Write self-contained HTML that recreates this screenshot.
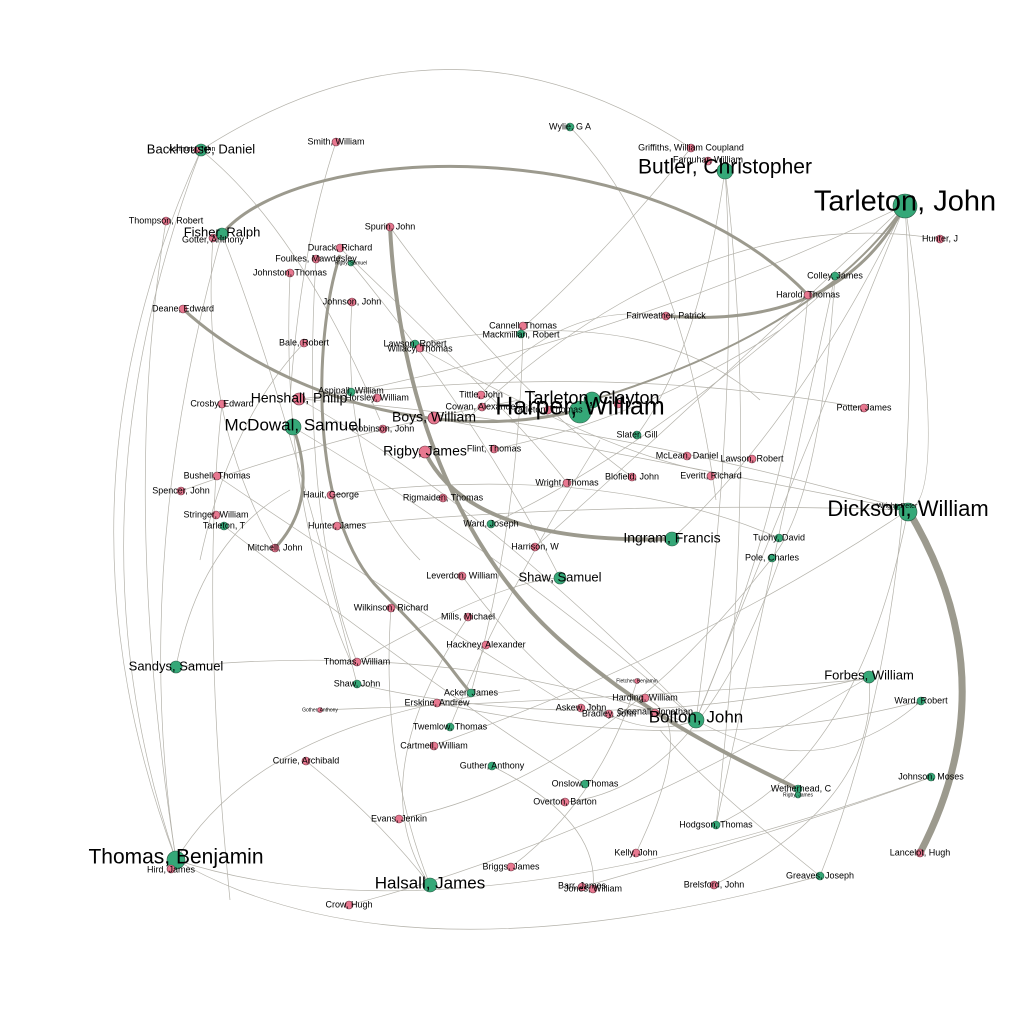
<!DOCTYPE html>
<html><head><meta charset="utf-8"><style>
html,body{margin:0;padding:0;background:#fff}
svg{display:block}
text{font-family:"Liberation Sans",sans-serif;fill:#000;text-anchor:middle;dominant-baseline:middle}
.e{fill:none;stroke:#b4b2aa;stroke-width:0.7}
.t{fill:none;stroke:#9c9a8e}
.g{fill:#35a878;stroke:#2a5a44;stroke-width:0.6}
.p{fill:#e87890;stroke:#6a3340;stroke-width:0.6}
</style></head><body>
<svg width="1024" height="1024" viewBox="0 0 1024 1024" xmlns="http://www.w3.org/2000/svg">
<g>
<path class="e" d="M201,150 Q450,-10 691,148"/>
<path class="e" d="M201,150 Q40,500 176,860"/>
<path class="e" d="M201,150 Q60,520 176,860"/>
<path class="e" d="M166,221 Q120,500 176,860"/>
<path class="e" d="M222,234 Q130,560 176,860"/>
<path class="e" d="M201,150 Q300,230 380,420"/>
<path class="e" d="M336,142 Q300,250 290,400"/>
<path class="e" d="M570,127 Q680,240 716,500"/>
<path class="e" d="M691,148 Q600,260 520,330"/>
<path class="e" d="M725,170 Q740,400 696,720"/>
<path class="e" d="M725,170 Q760,450 716,825"/>
<path class="e" d="M725,170 Q700,350 637,435"/>
<path class="e" d="M905,205 Q800,420 672,539"/>
<path class="e" d="M905,205 Q950,500 908,510"/>
<path class="e" d="M905,205 Q760,560 696,720"/>
<path class="e" d="M905,205 Q930,600 820,876"/>
<path class="e" d="M940,239 Q700,200 466,420"/>
<path class="e" d="M835,276 Q820,500 772,558"/>
<path class="e" d="M213,238 Q200,420 275,548"/>
<path class="e" d="M222,234 Q280,380 357,684"/>
<path class="e" d="M290,273 Q280,500 350,660"/>
<path class="e" d="M352,302 Q340,480 420,560"/>
<path class="e" d="M351,263 Q480,420 560,578"/>
<path class="e" d="M304,343 Q230,420 200,560"/>
<path class="e" d="M222,404 Q200,600 230,900"/>
<path class="e" d="M415,344 Q650,300 760,400"/>
<path class="e" d="M420,348 Q600,450 700,470"/>
<path class="e" d="M300,399 Q600,360 864,408"/>
<path class="e" d="M300,399 Q600,420 908,510"/>
<path class="e" d="M351,392 Q650,330 905,205"/>
<path class="e" d="M434,418 Q700,470 908,510"/>
<path class="e" d="M299,399 Q480,500 696,720"/>
<path class="e" d="M293,427 Q500,550 696,720"/>
<path class="e" d="M217,476 Q400,600 560,700"/>
<path class="e" d="M181,491 Q350,430 520,400"/>
<path class="e" d="M331,495 Q600,460 779,538"/>
<path class="e" d="M224,526 Q450,700 585,784"/>
<path class="e" d="M337,526 Q600,500 908,510"/>
<path class="e" d="M494,449 Q640,420 780,330"/>
<path class="e" d="M491,524 Q650,450 837,280"/>
<path class="e" d="M535,547 Q700,400 905,205"/>
<path class="e" d="M176,667 Q450,640 680,720"/>
<path class="e" d="M176,667 Q200,540 290,490"/>
<path class="e" d="M357,662 Q500,580 560,578"/>
<path class="e" d="M357,684 Q600,740 869,677"/>
<path class="e" d="M320,710 Q600,700 860,680"/>
<path class="e" d="M437,703 Q700,760 921,701"/>
<path class="e" d="M462,576 Q600,760 696,720"/>
<path class="e" d="M391,608 Q380,760 430,885"/>
<path class="e" d="M468,617 Q360,780 430,885"/>
<path class="e" d="M306,761 Q380,820 430,885"/>
<path class="e" d="M399,819 Q600,780 772,558"/>
<path class="e" d="M176,860 Q260,720 520,690"/>
<path class="e" d="M176,860 Q450,950 931,777"/>
<path class="e" d="M349,905 Q600,840 869,677"/>
<path class="e" d="M511,867 Q600,800 637,681"/>
<path class="e" d="M492,766 Q600,820 593,889"/>
<path class="e" d="M565,802 Q700,790 780,558"/>
<path class="e" d="M636,853 Q700,720 645,698"/>
<path class="e" d="M714,885 Q880,800 869,677"/>
<path class="e" d="M820,876 Q700,780 660,730"/>
<path class="e" d="M716,825 Q860,760 908,510"/>
<path class="e" d="M582,887 Q820,820 931,777"/>
<path class="e" d="M696,720 Q820,790 921,701"/>
<path class="e" d="M450,727 Q500,600 600,440"/>
<path class="e" d="M471,693 Q520,520 523,326"/>
<path class="e" d="M432,746 Q700,650 908,510"/>
<path class="e" d="M390,227 Q500,380 632,477"/>
<path class="e" d="M340,248 Q520,420 567,483"/>
<path class="e" d="M316,259 Q300,520 357,662"/>
<path class="e" d="M481,395 Q560,300 666,316"/>
<path class="e" d="M808,295 Q790,500 696,720"/>
<path class="e" d="M835,276 Q790,480 716,825"/>
<path class="e" d="M176,860 Q400,990 820,876"/>
</g>
<g>
<path class="t" stroke-width="4" d="M390,227 C400,420 470,560 560,640 S740,760 798,789"/>
<path class="t" stroke-width="4" d="M425,452 Q470,545 672,539"/>
<path class="t" stroke-width="7" d="M908,510 Q1010,680 920,853"/>
<path class="t" stroke-width="3" d="M905,205 Q840,330 666,316"/>
<path class="t" stroke-width="3" d="M222,234 C300,140 650,130 808,295"/>
<path class="t" stroke-width="3" d="M183,309 C260,380 420,450 580,410"/>
<path class="t" stroke-width="3" d="M293,427 Q320,500 275,548"/>
<path class="t" stroke-width="3" d="M340,255 C312,340 310,520 380,590 S450,670 471,693"/>
<path class="t" stroke-width="2" d="M905,205 Q820,330 592,400"/>
</g>
<g>
<circle class="g" cx="201" cy="150" r="6"/><circle class="p" cx="197" cy="150" r="3"/>
<circle class="p" cx="336" cy="142" r="4"/><circle class="g" cx="570" cy="127" r="4"/>
<circle class="p" cx="691" cy="148" r="4"/><circle class="p" cx="708" cy="161" r="4"/>
<circle class="g" cx="725" cy="171" r="8"/><circle class="g" cx="905" cy="206" r="12"/>
<circle class="p" cx="940" cy="239" r="4"/><circle class="p" cx="166" cy="221" r="4"/>
<circle class="g" cx="222" cy="234" r="6"/><circle class="p" cx="213" cy="238" r="4"/>
<circle class="p" cx="390" cy="227" r="4"/><circle class="p" cx="340" cy="248" r="4"/>
<circle class="p" cx="316" cy="259" r="4"/><circle class="g" cx="351" cy="263" r="3"/>
<circle class="p" cx="290" cy="273" r="4"/><circle class="g" cx="835" cy="276" r="4"/>
<circle class="p" cx="808" cy="295" r="4"/><circle class="p" cx="183" cy="309" r="4"/>
<circle class="p" cx="352" cy="302" r="4"/><circle class="p" cx="666" cy="316" r="4"/>
<circle class="p" cx="523" cy="326" r="4"/><circle class="g" cx="521" cy="334" r="4"/>
<circle class="p" cx="304" cy="343" r="4"/><circle class="g" cx="415" cy="344" r="4"/>
<circle class="p" cx="420" cy="348" r="4"/><circle class="g" cx="351" cy="392" r="4"/>
<circle class="p" cx="377" cy="398" r="4"/><circle class="p" cx="299" cy="399" r="6"/>
<circle class="p" cx="481" cy="395" r="4"/><circle class="p" cx="482" cy="407" r="4"/>
<circle class="p" cx="548" cy="410" r="4"/><circle class="p" cx="618" cy="404" r="4"/>
<circle class="g" cx="592" cy="400" r="8"/><circle class="g" cx="580" cy="412" r="11"/>
<circle class="p" cx="434" cy="418" r="6"/><circle class="p" cx="383" cy="429" r="4"/>
<circle class="p" cx="222" cy="404" r="4"/><circle class="p" cx="864" cy="408" r="4"/>
<circle class="g" cx="293" cy="427" r="8"/><circle class="g" cx="637" cy="435" r="4"/>
<circle class="p" cx="425" cy="452" r="6"/><circle class="p" cx="494" cy="449" r="4"/>
<circle class="p" cx="687" cy="456" r="4"/><circle class="p" cx="752" cy="459" r="4"/>
<circle class="p" cx="711" cy="476" r="4"/><circle class="p" cx="217" cy="476" r="4"/>
<circle class="p" cx="632" cy="477" r="4"/><circle class="p" cx="567" cy="483" r="4"/>
<circle class="p" cx="181" cy="491" r="4"/><circle class="p" cx="443" cy="498" r="4"/>
<circle class="p" cx="331" cy="495" r="4"/><circle class="g" cx="897" cy="507" r="3"/>
<circle class="g" cx="908" cy="512" r="9"/><circle class="p" cx="216" cy="515" r="4"/>
<circle class="g" cx="224" cy="526" r="4"/><circle class="g" cx="491" cy="524" r="4"/>
<circle class="p" cx="337" cy="526" r="4"/><circle class="g" cx="672" cy="539" r="7"/>
<circle class="g" cx="779" cy="538" r="4"/><circle class="p" cx="535" cy="547" r="4"/>
<circle class="p" cx="275" cy="548" r="4"/><circle class="g" cx="772" cy="558" r="4"/>
<circle class="g" cx="560" cy="578" r="6"/><circle class="p" cx="462" cy="576" r="4"/>
<circle class="p" cx="391" cy="608" r="4"/><circle class="p" cx="468" cy="617" r="4"/>
<circle class="p" cx="486" cy="645" r="4"/><circle class="p" cx="357" cy="662" r="4"/>
<circle class="g" cx="176" cy="667" r="6"/><circle class="g" cx="869" cy="677" r="6"/>
<circle class="p" cx="637" cy="681" r="2.5"/><circle class="g" cx="357" cy="684" r="4"/>
<circle class="g" cx="471" cy="693" r="4"/><circle class="p" cx="645" cy="698" r="4"/>
<circle class="g" cx="921" cy="701" r="4"/><circle class="p" cx="437" cy="703" r="4"/>
<circle class="p" cx="320" cy="710" r="2.5"/><circle class="p" cx="581" cy="708" r="4"/>
<circle class="p" cx="609" cy="714" r="4"/><circle class="p" cx="655" cy="713" r="4"/>
<circle class="g" cx="696" cy="720" r="8"/><circle class="g" cx="450" cy="727" r="4"/>
<circle class="p" cx="434" cy="746" r="4"/><circle class="p" cx="306" cy="761" r="4"/>
<circle class="g" cx="492" cy="766" r="4"/><circle class="g" cx="585" cy="784" r="4"/>
<circle class="g" cx="931" cy="777" r="4"/><circle class="g" cx="798" cy="789" r="4"/>
<circle class="g" cx="798" cy="795" r="3"/>
<circle class="p" cx="565" cy="802" r="4"/><circle class="p" cx="399" cy="819" r="4"/>
<circle class="g" cx="716" cy="825" r="4"/><circle class="p" cx="636" cy="853" r="4"/>
<circle class="p" cx="920" cy="853" r="4"/><circle class="g" cx="176" cy="860" r="9"/>
<circle class="p" cx="171" cy="869" r="4"/><circle class="p" cx="511" cy="867" r="4"/>
<circle class="g" cx="820" cy="876" r="4"/><circle class="g" cx="430" cy="885" r="7"/>
<circle class="p" cx="582" cy="887" r="4"/><circle class="p" cx="593" cy="889" r="4"/>
<circle class="p" cx="714" cy="885" r="4"/><circle class="p" cx="349" cy="905" r="4"/>
</g>
<g font-size="9">
<text x="201" y="150" font-size="13">Backhouse, Daniel</text>
<text x="192" y="149" font-size="7">Ashhurst, John</text>
<text x="336" y="142">Smith, William</text>
<text x="570" y="127">Wylie, G A</text>
<text x="691" y="148">Griffiths, William Coupland</text>
<text x="708" y="160">Farquhar, William</text>
<text x="725" y="168" font-size="21">Butler, Christopher</text>
<text x="905" y="203" font-size="29">Tarleton, John</text>
<text x="940" y="239">Hunter, J</text>
<text x="166" y="221">Thompson, Robert</text>
<text x="222" y="233" font-size="13">Fisher, Ralph</text>
<text x="213" y="240">Gotter, Anthony</text>
<text x="390" y="227">Spurin, John</text>
<text x="340" y="248">Durack, Richard</text>
<text x="316" y="259">Foulkes, Mawdesley</text>
<text x="351" y="263" font-size="5">Rigby, Samuel</text>
<text x="290" y="273">Johnston, Thomas</text>
<text x="835" y="276">Colley, James</text>
<text x="808" y="295">Harold, Thomas</text>
<text x="183" y="309">Deane, Edward</text>
<text x="352" y="302">Johnson, John</text>
<text x="666" y="316">Fairweather, Patrick</text>
<text x="523" y="326">Cannell, Thomas</text>
<text x="521" y="335">Mackmillan, Robert</text>
<text x="304" y="343">Bale, Robert</text>
<text x="415" y="344">Lawson, Robert</text>
<text x="420" y="349">Willacy, Thomas</text>
<text x="351" y="391">Aspinall, William</text>
<text x="377" y="398">Horsley, William</text>
<text x="299" y="399" font-size="14">Henshall, Philip</text>
<text x="481" y="395">Tittle, John</text>
<text x="482" y="407">Cowan, Alexander</text>
<text x="548" y="410">Tarleton, Thomas</text>
<text x="592" y="399" font-size="18">Tarleton, Clayton</text>
<text x="580" y="408" font-size="25">Harper, William</text>
<text x="434" y="418" font-size="14">Boys, William</text>
<text x="383" y="429">Robinson, John</text>
<text x="222" y="404">Crosby, Edward</text>
<text x="864" y="408">Potter, James</text>
<text x="293" y="426" font-size="17">McDowal, Samuel</text>
<text x="637" y="435">Slater, Gill</text>
<text x="425" y="452" font-size="14">Rigby, James</text>
<text x="494" y="449">Flint, Thomas</text>
<text x="687" y="456">McLean, Daniel</text>
<text x="752" y="459">Lawson, Robert</text>
<text x="711" y="476">Everitt, Richard</text>
<text x="217" y="476">Bushell, Thomas</text>
<text x="632" y="477">Blofield, John</text>
<text x="567" y="483">Wright, Thomas</text>
<text x="181" y="491">Spencer, John</text>
<text x="443" y="498">Rigmaiden, Thomas</text>
<text x="331" y="495">Hauit, George</text>
<text x="897" y="506" font-size="7">Wright, Peter</text>
<text x="908" y="510" font-size="22">Dickson, William</text>
<text x="216" y="515">Stringer, William</text>
<text x="224" y="526">Tarleton, T</text>
<text x="491" y="524">Ward, Joseph</text>
<text x="337" y="526">Hunter, James</text>
<text x="672" y="539" font-size="14">Ingram, Francis</text>
<text x="779" y="538">Tuohy, David</text>
<text x="535" y="547">Harrison, W</text>
<text x="275" y="548">Mitchell, John</text>
<text x="772" y="558">Pole, Charles</text>
<text x="560" y="578" font-size="13">Shaw, Samuel</text>
<text x="462" y="576">Leverdon, William</text>
<text x="391" y="608">Wilkinson, Richard</text>
<text x="468" y="617">Mills, Michael</text>
<text x="486" y="645">Hackney, Alexander</text>
<text x="357" y="662">Thomas, William</text>
<text x="176" y="667" font-size="13">Sandys, Samuel</text>
<text x="869" y="676" font-size="13">Forbes, William</text>
<text x="637" y="681" font-size="5">Fletcher, Benjamin</text>
<text x="357" y="684">Shaw, John</text>
<text x="471" y="693">Acker, James</text>
<text x="645" y="698">Harding, William</text>
<text x="921" y="701">Ward, Robert</text>
<text x="437" y="703">Erskine, Andrew</text>
<text x="320" y="710" font-size="5">Gother, Anthony</text>
<text x="581" y="708">Askew, John</text>
<text x="609" y="714">Bradley, John</text>
<text x="655" y="712">Greenall, Jonathan</text>
<text x="696" y="718" font-size="17">Bolton, John</text>
<text x="450" y="727">Twemlow, Thomas</text>
<text x="434" y="746">Cartmell, William</text>
<text x="306" y="761">Currie, Archibald</text>
<text x="492" y="766">Guther, Anthony</text>
<text x="585" y="784">Onslow, Thomas</text>
<text x="931" y="777">Johnson, Moses</text>
<text x="801" y="789">Wetherhead, C</text>
<text x="798" y="795" font-size="5">Rigby, James</text>
<text x="565" y="802">Overton, Barton</text>
<text x="399" y="819">Evans, Jenkin</text>
<text x="716" y="825">Hodgson, Thomas</text>
<text x="636" y="853">Kelly, John</text>
<text x="920" y="853">Lancelot, Hugh</text>
<text x="176" y="858" font-size="21">Thomas, Benjamin</text>
<text x="171" y="870">Hird, James</text>
<text x="511" y="867">Briggs, James</text>
<text x="820" y="876">Greaves, Joseph</text>
<text x="430" y="884" font-size="17">Halsall, James</text>
<text x="582" y="886">Barr, James</text>
<text x="593" y="889">Jones, William</text>
<text x="714" y="885">Brelsford, John</text>
<text x="349" y="905">Crow, Hugh</text>
</g>
</svg>
</body></html>
